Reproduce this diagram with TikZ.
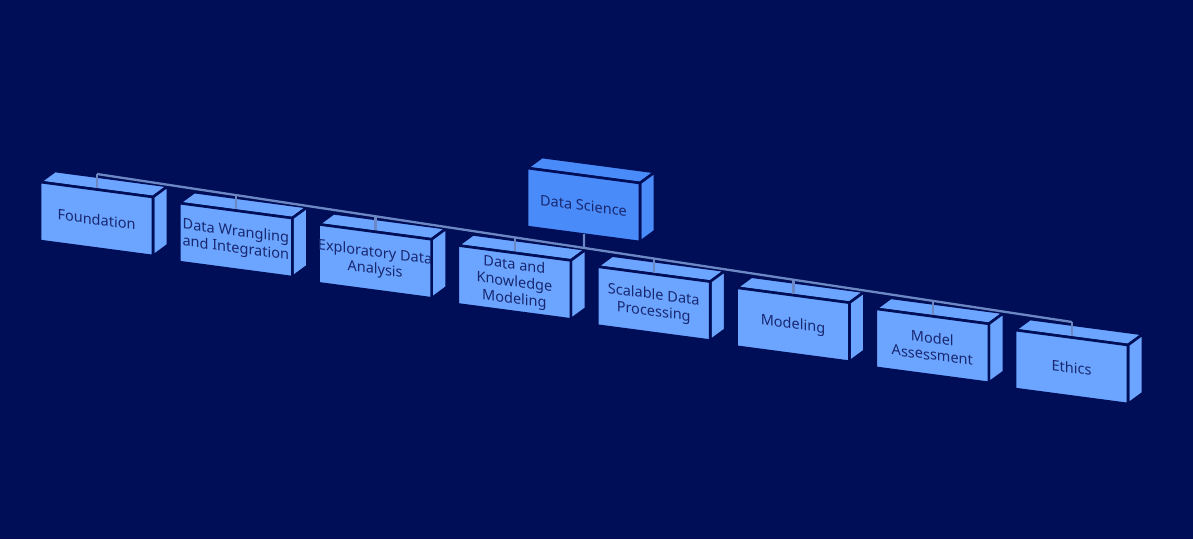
\documentclass[tikz,border=0pt]{standalone}
\usepackage{fontspec}
\setmainfont{Noto Sans}
\usetikzlibrary{calc}
\definecolor{bgnavy}{RGB}{0,14,88}
\definecolor{facelight}{RGB}{108,165,255}
\definecolor{faceroot}{RGB}{74,139,250}
\definecolor{labelink}{RGB}{24,40,112}
\definecolor{linkblue}{RGB}{108,136,196}
\tikzset{
  face/.style={draw=bgnavy, line width=2.6pt, line join=round},
  lbl/.style={text=labelink, align=center, inner sep=0pt,
    font=\fontsize{14.5}{17}\selectfont},
  link/.style={draw=linkblue, line width=2.3pt, line cap=butt}
}
% cuboid: #1 name, #2 x, #3 y (front top-left corner), #4 fill, #5 label
\newcommand\dsbox[5]{%
  \begin{scope}[shift={(#2,#3)}]
    \path[face, fill=#4] (0,0) -- (113,15) -- (128,4) -- (15,-11) -- cycle;
    \path[face, fill=#4] (113,15) -- (128,4) -- (128,63) -- (113,74) -- cycle;
    \path[face, fill=#4] (0,0) -- (113,15) -- (113,74) -- (0,59) -- cycle;
    \coordinate (#1-top) at (57,6);
    \coordinate (#1-bus) at (57,-8);
    \coordinate (#1-bot) at (57,66);
    \begin{scope}[yslant=-0.133]
      \node[lbl, transform shape] (#1) at (56.5,30) {#5};
    \end{scope}
  \end{scope}}
\begin{document}
\begin{tikzpicture}[x=1pt, y=-1pt]
  \fill[bgnavy] (0,0) rectangle (1193,539);
  \useasboundingbox (0,0) rectangle (1193,539);

  \dsbox{c1}{40}{182}{facelight}{Foundation}
  \dsbox{c2}{179.3}{203.1}{facelight}{Data Wrangling\\and Integration}
  \dsbox{c3}{318.6}{224.3}{facelight}{Exploratory Data\\Analysis}
  \dsbox{c4}{457.9}{245.4}{facelight}{Data and\\Knowledge\\Modeling}
  \dsbox{c5}{597.2}{266.6}{facelight}{Scalable Data\\Processing}
  \dsbox{c6}{736.5}{287.7}{facelight}{Modeling}
  \dsbox{c7}{875.8}{308.8}{facelight}{Model\\Assessment}
  \dsbox{c8}{1015}{330}{facelight}{Ethics}

  % horizontal bus and drops to each child
  \draw[link] (c1-bus) -- (c8-bus);
  \foreach \i in {1,...,8} {
    \draw[link] (c\i-bus) -- (c\i-top);
  }

  \dsbox{root}{527}{168}{faceroot}{Data Science}
  \coordinate (root-join) at ($(c1-bus)!0.4995!(c8-bus)$);
  \draw[link] (root-bot) -- (root-join);
\end{tikzpicture}
\end{document}
